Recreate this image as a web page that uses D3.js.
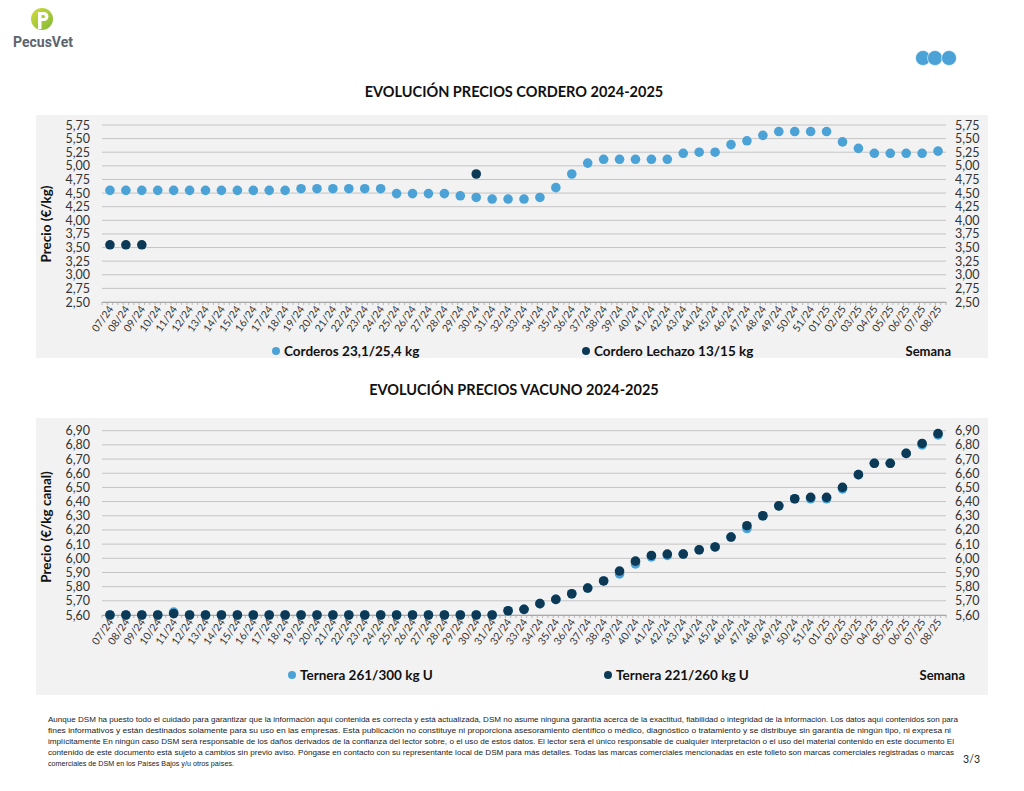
<!DOCTYPE html>
<html>
<head>
<meta charset="utf-8">
<script src="https://cdn.jsdelivr.net/npm/d3@7"></script>
<style>
  body { margin: 0; background: #fff; }
  svg { display: block; }
</style>
</head>
<body>
<div id="page"></div>
<script>
//constants
const width = 1024;
const height = 791;
const lightBlue = "#4ba2d6";
const darkBlue = "#0c3a56";
const font = "Lato, 'Open Sans', sans-serif";

// weeks 07/24 .. 08/25
const weeks = [
  "07/24", "08/24", "09/24", "10/24", "11/24", "12/24", "13/24", "14/24", "15/24", "16/24",
  "17/24", "18/24", "19/24", "20/24", "21/24", "22/24", "23/24", "24/24", "25/24", "26/24",
  "27/24", "28/24", "29/24", "30/24", "31/24", "32/24", "33/24", "34/24", "35/24", "36/24",
  "37/24", "38/24", "39/24", "40/24", "41/24", "42/24", "43/24", "44/24", "45/24", "46/24",
  "47/24", "48/24", "49/24", "50/24", "51/24", "01/25", "02/25", "03/25", "04/25", "05/25",
  "06/25", "07/25", "08/25",
];

//lamb data
const corderos = [
  4.55, 4.55, 4.55, 4.55, 4.55, 4.55, 4.55, 4.55, 4.55, 4.55,
  4.55, 4.55, 4.58, 4.58, 4.58, 4.58, 4.58, 4.58, 4.49, 4.49,
  4.49, 4.49, 4.45, 4.42, 4.39, 4.39, 4.39, 4.42, 4.60, 4.85,
  5.05, 5.12, 5.12, 5.12, 5.12, 5.12, 5.23, 5.25, 5.25, 5.39,
  5.46, 5.56, 5.63, 5.63, 5.63, 5.63, 5.44, 5.32, 5.23, 5.23,
  5.23, 5.23, 5.27,
];
const lechazo = [
  3.55, 3.55, 3.55, null, null, null, null, null, null, null,
  null, null, null, null, null, null, null, null, null, null,
  null, null, null, 4.85, null, null, null, null, null, null,
  null, null, null, null, null, null, null, null, null, null,
  null, null, null, null, null, null, null, null, null, null,
  null, null, null,
];
const corderoTicks = [2.5, 2.75, 3.0, 3.25, 3.5, 3.75, 4.0, 4.25, 4.5, 4.75, 5.0, 5.25, 5.5, 5.75];

//beef data
const ternera261 = [
  5.60, 5.60, 5.60, 5.60, 5.62, 5.60, 5.60, 5.60, 5.60, 5.60,
  5.60, 5.60, 5.60, 5.60, 5.60, 5.60, 5.60, 5.60, 5.60, 5.60,
  5.60, 5.60, 5.60, 5.60, 5.60, 5.63, 5.64, 5.68, 5.71, 5.75,
  5.79, 5.84, 5.89, 5.96, 6.01, 6.02, 6.03, 6.06, 6.08, 6.15,
  6.21, 6.30, 6.37, 6.42, 6.42, 6.42, 6.49, 6.59, 6.67, 6.67,
  6.74, 6.80, 6.87,
];
const ternera221 = [
  5.60, 5.60, 5.60, 5.60, 5.61, 5.60, 5.60, 5.60, 5.60, 5.60,
  5.60, 5.60, 5.60, 5.60, 5.60, 5.60, 5.60, 5.60, 5.60, 5.60,
  5.60, 5.60, 5.60, 5.60, 5.60, 5.63, 5.64, 5.68, 5.71, 5.75,
  5.79, 5.84, 5.91, 5.98, 6.02, 6.03, 6.03, 6.06, 6.08, 6.15,
  6.23, 6.30, 6.37, 6.42, 6.43, 6.43, 6.50, 6.59, 6.67, 6.67,
  6.74, 6.81, 6.88,
];
const vacunoTicks = [5.6, 5.7, 5.8, 5.9, 6.0, 6.1, 6.2, 6.3, 6.4, 6.5, 6.6, 6.7, 6.8, 6.9];

const footer = [
  "Aunque DSM ha puesto todo el cuidado para garantizar que la información aquí contenida es correcta y está actualizada, DSM no asume ninguna garantía acerca de la exactitud, fiabilidad o integridad de la información. Los datos aquí contenidos son para",
  "fines informativos y están destinados solamente para su uso en las empresas. Esta publicación no constituye ni proporciona asesoramiento científico o médico, diagnóstico o tratamiento y se distribuye sin garantía de ningún tipo, ni expresa ni",
  "implícitamente En ningún caso DSM será responsable de los daños derivados de la confianza del lector sobre, o el uso de estos datos. El lector será el único responsable de cualquier interpretación o el uso del material contenido en este documento El",
  "contenido de este documento está sujeto a cambios sin previo aviso. Póngase en contacto con su representante local de DSM para más detalles. Todas las marcas comerciales mencionadas en este folleto son marcas comerciales registradas o marcas",
  "comerciales de DSM en los Países Bajos y/u otros países.",
];

const svg = d3
  .select("#page")
  .append("svg")
  .attr("width", width)
  .attr("height", height)
  .attr("font-family", font);

header();

chart({
  title: "EVOLUCIÓN PRECIOS CORDERO 2024-2025",
  titleY: 92,
  panel: { x: 36, y: 115, w: 952, h: 243 },
  yRange: [302, 125],
  ticks: corderoTicks,
  yTitle: "Precio (€/kg)",
  yTitleY: 224,
  series: [
    { values: corderos, color: lightBlue, name: "Corderos 23,1/25,4 kg", lx: 276 },
    { values: lechazo, color: darkBlue, name: "Cordero Lechazo 13/15 kg", lx: 586 },
  ],
  legendY: 351,
  semanaX: 951,
});

chart({
  title: "EVOLUCIÓN PRECIOS VACUNO 2024-2025",
  titleY: 390,
  panel: { x: 36, y: 418, w: 952, h: 277 },
  yRange: [615, 430.7],
  ticks: vacunoTicks,
  yTitle: "Precio (€/kg canal)",
  yTitleY: 527,
  series: [
    { values: ternera261, color: lightBlue, name: "Ternera 261/300 kg U", lx: 292 },
    { values: ternera221, color: darkBlue, name: "Ternera 221/260 kg U", lx: 608 },
  ],
  legendY: 675,
  semanaX: 965,
});

footerText();

function header() {
  // logo
  const grad = svg.append("defs").append("linearGradient").attr("id", "lg")
    .attr("x1", "0").attr("y1", "0").attr("x2", "1").attr("y2", "1");
  grad.append("stop").attr("offset", "0%").attr("stop-color", "#d4dc3a");
  grad.append("stop").attr("offset", "100%").attr("stop-color", "#7fb83a");
  svg.append("circle").attr("cx", 42).attr("cy", 19).attr("r", 11).attr("fill", "url(#lg)");
  svg.append("path")
    .attr("d", "M38,12 h6 a4.5,4.5 0 0 1 0,9 h-2.5 v8 h-3.5 z M41.5,15 v3 h2 a1.5,1.5 0 0 0 0,-3 z")
    .attr("fill", "#fff")
    .attr("fill-rule", "evenodd");
  svg.append("text")
    .attr("x", 43).attr("y", 47)
    .attr("text-anchor", "middle")
    .attr("font-family", "'Roboto', sans-serif")
    .attr("font-weight", 700)
    .attr("font-size", 14)
    .attr("fill", "#5b6570")
    .attr("textLength", 60)
    .attr("lengthAdjust", "spacingAndGlyphs")
    .text("PecusVet");

  // three dots top right
  svg.selectAll(".hdot")
    .data([923, 935, 949])
    .join("circle")
    .attr("cx", (d) => d).attr("cy", 58).attr("r", 7.5)
    .attr("fill", lightBlue)
    .attr("stroke", "#fff").attr("stroke-width", 0.6);
}

function chart(c) {
  const fmt = (v) => d3.format(".2f")(v).replace(".", ",");
  const g = svg.append("g");

  g.append("text")
    .attr("x", 514).attr("y", c.titleY)
    .attr("dy", "0.35em")
    .attr("text-anchor", "middle")
    .attr("font-weight", 700)
    .attr("font-size", 14.5)
    .attr("fill", "#111")
    .text(c.title);

  g.append("rect")
    .attr("x", c.panel.x).attr("y", c.panel.y)
    .attr("width", c.panel.w).attr("height", c.panel.h)
    .attr("fill", "#f2f2f2");

  const x = d3.scaleBand().domain(weeks).range([102, 946]).padding(0);
  const y = d3.scaleLinear()
    .domain([c.ticks[0], c.ticks[c.ticks.length - 1]])
    .range(c.yRange);

  // gridlines
  g.append("g")
    .selectAll("line")
    .data(c.ticks)
    .join("line")
    .attr("x1", 102).attr("x2", 946)
    .attr("y1", (d) => y(d)).attr("y2", (d) => y(d))
    .attr("stroke", "#c4c4c4").attr("stroke-width", 1);

  // left and right y labels
  const yl = g.append("g").attr("transform", "translate(90,0)")
    .call(d3.axisLeft(y).tickValues(c.ticks).tickFormat(fmt).tickSize(0).tickPadding(0));
  const yr = g.append("g").attr("transform", "translate(955,0)")
    .call(d3.axisRight(y).tickValues(c.ticks).tickFormat(fmt).tickSize(0).tickPadding(0));
  [yl, yr].forEach((a) => {
    a.select(".domain").remove();
    a.selectAll("text").attr("font-family", font).attr("font-size", 12.5).attr("fill", "#333");
  });

  // x axis
  const base = c.yRange[0];
  const xa = g.append("g").attr("transform", `translate(0,${base})`)
    .call(d3.axisBottom(x).tickSize(0).tickPadding(0));
  xa.select(".domain").attr("stroke", "#a8a8a8");
  xa.selectAll("text")
    .attr("font-family", font)
    .attr("font-size", 10.5)
    .attr("fill", "#333")
    .attr("text-anchor", "end")
    .attr("dy", 0)
    .attr("y", 0)
    .attr("transform", "translate(4,7) rotate(-55)");

  // minor tick marks
  const minor = [];
  weeks.forEach((w) => {
    for (let k = 0; k < 3; k++) minor.push(x(w) + (k * x.bandwidth()) / 3);
  });
  minor.push(946);
  g.append("g")
    .selectAll("line")
    .data(minor)
    .join("line")
    .attr("x1", (d) => d).attr("x2", (d) => d)
    .attr("y1", base).attr("y2", base + 3)
    .attr("stroke", "#a8a8a8").attr("stroke-width", 0.8);

  // y title
  g.append("text")
    .attr("transform", `translate(46,${c.yTitleY}) rotate(-90)`)
    .attr("dy", "0.35em")
    .attr("text-anchor", "middle")
    .attr("font-weight", 700)
    .attr("font-size", 13.5)
    .attr("fill", "#111")
    .text(c.yTitle);

  // dots
  c.series.forEach((s) => {
    g.append("g")
      .selectAll("circle")
      .data(weeks.map((w, i) => ({ w, v: s.values[i] })).filter((d) => d.v != null))
      .join("circle")
      .attr("cx", (d) => x(d.w) + x.bandwidth() / 2)
      .attr("cy", (d) => y(d.v))
      .attr("r", 4.8)
      .attr("fill", s.color);

    // legend
    g.append("circle")
      .attr("cx", s.lx).attr("cy", c.legendY).attr("r", 4)
      .attr("fill", s.color);
    g.append("text")
      .attr("x", s.lx + 8).attr("y", c.legendY)
      .attr("dy", "0.35em")
      .attr("font-weight", 700)
      .attr("font-size", 13.5)
      .attr("fill", "#111")
      .text(s.name);
  });

  g.append("text")
    .attr("x", c.semanaX).attr("y", c.legendY)
    .attr("dy", "0.35em")
    .attr("text-anchor", "end")
    .attr("font-weight", 700)
    .attr("font-size", 13)
    .attr("fill", "#111")
    .text("Semana");
}

function footerText() {
  const widths = [910, 903, 906, 906, 186];
  svg.append("g")
    .selectAll("text")
    .data(footer)
    .join("text")
    .attr("x", 48)
    .attr("y", (d, i) => 719 + i * 11)
    .attr("dy", "0.35em")
    .attr("font-family", "'Liberation Sans', sans-serif")
    .attr("font-size", 8)
    .attr("fill", "#222")
    .attr("textLength", (d, i) => widths[i])
    .attr("lengthAdjust", "spacingAndGlyphs")
    .text((d) => d);

  svg.append("text")
    .attr("x", 980).attr("y", 759)
    .attr("dy", "0.35em")
    .attr("text-anchor", "end")
    .attr("font-size", 10.5)
    .attr("fill", "#222")
    .text("3/3");
}
</script>
</body>
</html>
